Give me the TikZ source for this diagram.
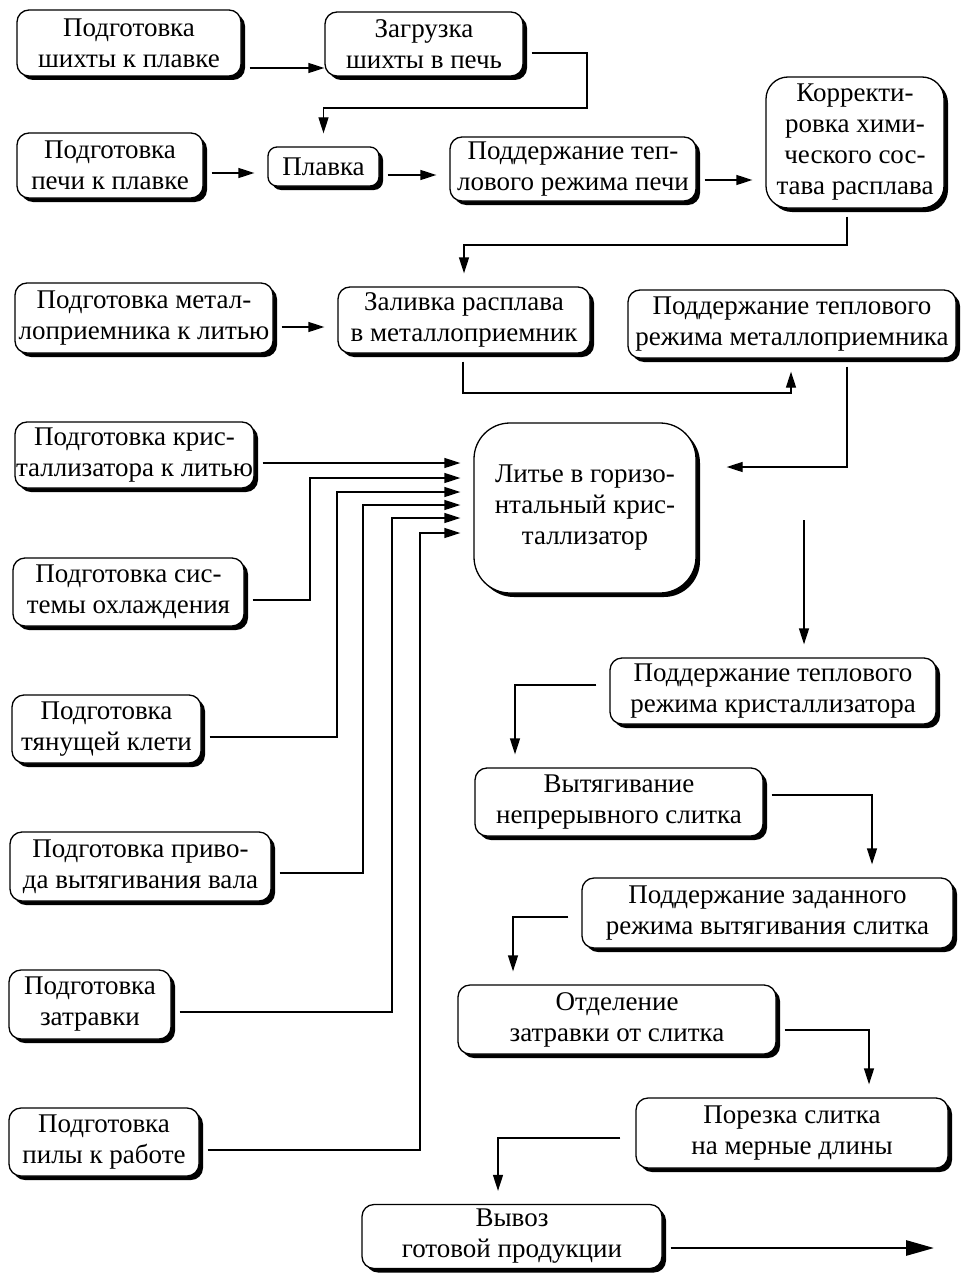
\documentclass[tikz,border=0pt]{standalone}
\usepackage{fontspec}
\setmainfont{Liberation Serif}
\usetikzlibrary{arrows.meta,shadows}
\begin{document}
\begin{tikzpicture}[x=1pt,y=-1pt,
  box/.style={draw, line width=1.3pt, rounded corners=12pt, fill=white, align=center,
    inner sep=1pt, font=\fontsize{27}{31}\selectfont,
    drop shadow={shadow xshift=4pt, shadow yshift=-4pt, opacity=1, fill=black}},
  arr/.style={line width=1.3pt, -{Triangle[length=16pt,width=10pt]}, shorten <=8pt, shorten >=13pt},
  arrbig/.style={line width=2.8pt, -{Triangle[length=28pt,width=15pt]}, shorten <=8pt}
]
\useasboundingbox (0,0) rectangle (963,1279);

% boxes
\node[box, minimum width=224pt, minimum height=66pt] (B1) at (129,43) {Подготовка\\шихты к плавке};
\node[box, minimum width=198pt, minimum height=64pt] (B2) at (424,44) {Загрузка\\шихты в печь};
\node[box, minimum width=186pt, minimum height=65pt] (B3) at (110,165.5) {Подготовка\\печи к плавке};
\node[box, minimum width=111pt, minimum height=39pt, rounded corners=9pt] (B4) at (323.5,166.5) {Плавка};
\node[box, minimum width=246pt, minimum height=64pt] (B5) at (573,169) {Поддержание теп-\\лового режима печи};
\node[box, minimum width=178pt, minimum height=131pt, rounded corners=22pt] (B6) at (855,142.5) {Корректи-\\ровка хими-\\ческого сос-\\тава расплава};
\node[box, minimum width=258pt, minimum height=70pt] (B7) at (144,318) {Подготовка метал-\\лоприемника к литью};
\node[box, minimum width=252pt, minimum height=66pt] (B8) at (464,320) {Заливка расплава\\в металлоприемник};
\node[box, minimum width=328pt, minimum height=68pt] (B9) at (792,324) {Поддержание теплового\\режима металлоприемника};
\node[box, minimum width=239pt, minimum height=66pt] (B10) at (134.5,455) {Подготовка крис-\\таллизатора к литью};
\node[box, minimum width=222pt, minimum height=170pt, rounded corners=36pt] (L) at (585,508) {Литье в горизо-\\нтальный крис-\\таллизатор};
\node[box, minimum width=231pt, minimum height=68pt] (B11) at (128.5,592) {Подготовка сис-\\темы охлаждения};
\node[box, minimum width=189pt, minimum height=68pt] (B12) at (106.5,729) {Подготовка\\тянущей клети};
\node[box, minimum width=261pt, minimum height=69pt] (B13) at (140.5,866.5) {Подготовка приво-\\да вытягивания вала};
\node[box, minimum width=162pt, minimum height=69pt] (B14) at (90,1004.5) {Подготовка\\затравки};
\node[box, minimum width=190pt, minimum height=68pt] (B15) at (104,1142) {Подготовка\\пилы к работе};
\node[box, minimum width=326pt, minimum height=66pt] (B16) at (773,691) {Поддержание теплового\\режима кристаллизатора};
\node[box, minimum width=288pt, minimum height=68pt] (B17) at (619,802) {Вытягивание\\непрерывного слитка};
\node[box, minimum width=371pt, minimum height=70pt] (B18) at (767.5,913) {Поддержание заданного\\режима вытягивания слитка};
\node[box, minimum width=318pt, minimum height=69pt] (B19) at (617,1019.5) {Отделение\\затравки от слитка};
\node[box, minimum width=312pt, minimum height=70pt] (B20) at (792,1133) {Порезка слитка\\на мерные длины};
\node[box, minimum width=300pt, minimum height=64pt] (B21) at (512,1236.5) {Вывоз\\готовой продукции};

% helper coordinates
\coordinate (h12) at (0,68);
\coordinate (h24) at (0,53);
\coordinate (k24) at (587,108);
\coordinate (h34) at (0,173);
\coordinate (h45) at (0,175);
\coordinate (h56) at (0,180);
\coordinate (v68) at (847,0);
\coordinate (k68) at (847,245);
\coordinate (h78) at (0,327);
\coordinate (k89) at (463,393);
\coordinate (v89) at (791,0);
\coordinate (k9L) at (847,467);
\coordinate (s16) at (804,520);
\coordinate (a1) at (0,463);
\coordinate (e2) at (0,600);
\coordinate (e3) at (0,737);
\coordinate (e4) at (0,873);
\coordinate (e5) at (0,1012);
\coordinate (e6) at (0,1150);
\coordinate (j2) at (310,478);
\coordinate (j3) at (337,492);
\coordinate (j4) at (363,505);
\coordinate (j5) at (392,518);
\coordinate (j6) at (420,533);
\coordinate (h1617) at (0,685);
\coordinate (v1617) at (515,0);
\coordinate (h1718) at (0,795);
\coordinate (v1718) at (872,0);
\coordinate (h1819) at (0,917);
\coordinate (v1819) at (513,0);
\coordinate (h1920) at (0,1030);
\coordinate (v1920) at (869,0);
\coordinate (h2021) at (0,1138);
\coordinate (v2021) at (498,0);
\coordinate (out) at (934,1248);

% connectors
\draw[arr, shorten >=0pt] (B1.east |- h12) -- (B2.west |- h12);
\draw[arr] (B2.east |- h24) -| (k24) -| (B4.north);
\draw[arr] (B3.east |- h34) -- (B4.west |- h34);
\draw[arr] (B4.east |- h45) -- (B5.west |- h45);
\draw[arr] (B5.east |- h56) -- (B6.west |- h56);
\draw[arr] (B6.south -| v68) -- (k68) -| (B8.north);
\draw[arr] (B7.east |- h78) -- (B8.west |- h78);
\draw[arr] (B8.south -| k89) -- (k89) -| (B9.south -| v89);
\draw[arr, shorten >=30pt] (B9.south -| k9L) -- (k9L) -- (L.east |- k9L);
\draw[arr, shorten <=0pt] (s16) -- (B16.north -| s16);

\draw[arr] (B10.east |- a1) -- (L.west |- a1);
\draw[arr] (B11.east |- e2) -| (j2) -- (L.west |- j2);
\draw[arr] (B12.east |- e3) -| (j3) -- (L.west |- j3);
\draw[arr] (B13.east |- e4) -| (j4) -- (L.west |- j4);
\draw[arr] (B14.east |- e5) -| (j5) -- (L.west |- j5);
\draw[arr] (B15.east |- e6) -| (j6) -- (L.west |- j6);

\draw[arr, shorten <=13pt] (B16.west |- h1617) -| (B17.north -| v1617);
\draw[arr] (B17.east |- h1718) -| (B18.north -| v1718);
\draw[arr, shorten <=13pt] (B18.west |- h1819) -| (B19.north -| v1819);
\draw[arr] (B19.east |- h1920) -| (B20.north -| v1920);
\draw[arr, shorten <=15pt] (B20.west |- h2021) -| (B21.north -| v2021);
\draw[arrbig] (B21.east |- out) -- (out);
\end{tikzpicture}
\end{document}
